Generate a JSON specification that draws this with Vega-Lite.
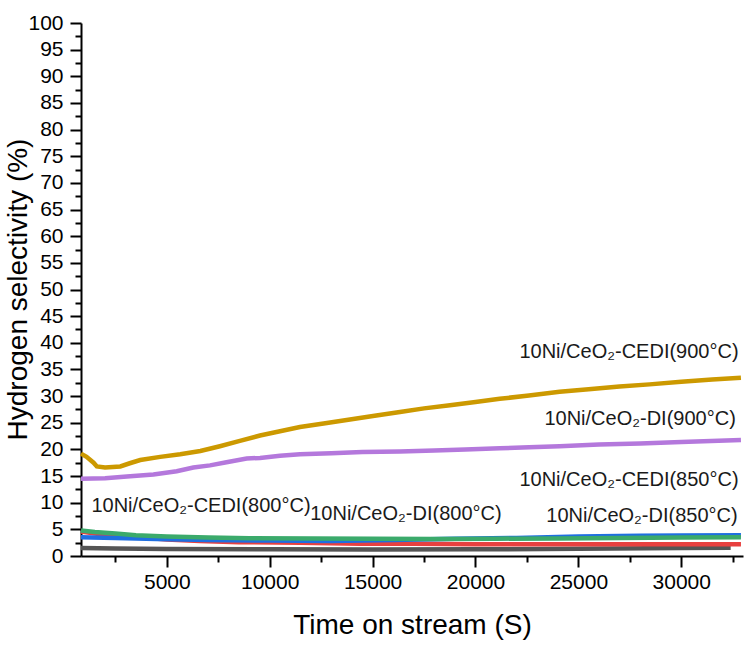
{
  "$schema": "https://vega.github.io/schema/vega-lite/v6.json",
  "width": 662,
  "height": 533,
  "autosize": {"type": "none"},
  "padding": {"left": 81, "top": 23, "right": 11, "bottom": 91},
  "background": "white",
  "config": {"view": {"stroke": null}, "font": "Liberation Sans"},
  "datasets": {
    "series": [
      {"series": "DI(800)", "time": 830, "value": 1.5},
      {"series": "DI(800)", "time": 2500, "value": 1.4},
      {"series": "DI(800)", "time": 5000, "value": 1.3},
      {"series": "DI(800)", "time": 10000, "value": 1.25},
      {"series": "DI(800)", "time": 15000, "value": 1.2},
      {"series": "DI(800)", "time": 20000, "value": 1.25},
      {"series": "DI(800)", "time": 25000, "value": 1.35},
      {"series": "DI(800)", "time": 30000, "value": 1.5},
      {"series": "DI(800)", "time": 32400, "value": 1.55},

      {"series": "CEDI(800)", "time": 830, "value": 4.6},
      {"series": "CEDI(800)", "time": 1500, "value": 4.2},
      {"series": "CEDI(800)", "time": 2500, "value": 3.8},
      {"series": "CEDI(800)", "time": 4000, "value": 3.4},
      {"series": "CEDI(800)", "time": 5000, "value": 3.1},
      {"series": "CEDI(800)", "time": 6600, "value": 2.8},
      {"series": "CEDI(800)", "time": 8500, "value": 2.6},
      {"series": "CEDI(800)", "time": 11500, "value": 2.5},
      {"series": "CEDI(800)", "time": 14400, "value": 2.3},
      {"series": "CEDI(800)", "time": 17000, "value": 2.3},
      {"series": "CEDI(800)", "time": 20000, "value": 2.2},
      {"series": "CEDI(800)", "time": 24000, "value": 2.2},
      {"series": "CEDI(800)", "time": 28000, "value": 2.2},
      {"series": "CEDI(800)", "time": 32900, "value": 2.2},

      {"series": "DI(850)", "time": 830, "value": 3.5},
      {"series": "DI(850)", "time": 2500, "value": 3.4},
      {"series": "DI(850)", "time": 4500, "value": 3.2},
      {"series": "DI(850)", "time": 7000, "value": 3.0},
      {"series": "DI(850)", "time": 10000, "value": 2.9},
      {"series": "DI(850)", "time": 13000, "value": 2.8},
      {"series": "DI(850)", "time": 16000, "value": 3.0},
      {"series": "DI(850)", "time": 19000, "value": 3.25},
      {"series": "DI(850)", "time": 22000, "value": 3.4},
      {"series": "DI(850)", "time": 25000, "value": 3.65},
      {"series": "DI(850)", "time": 28000, "value": 3.8},
      {"series": "DI(850)", "time": 30000, "value": 3.85},
      {"series": "DI(850)", "time": 32900, "value": 3.9},

      {"series": "CEDI(850)", "time": 830, "value": 4.8},
      {"series": "CEDI(850)", "time": 1500, "value": 4.5},
      {"series": "CEDI(850)", "time": 2500, "value": 4.2},
      {"series": "CEDI(850)", "time": 3500, "value": 3.9},
      {"series": "CEDI(850)", "time": 5000, "value": 3.65},
      {"series": "CEDI(850)", "time": 7000, "value": 3.45},
      {"series": "CEDI(850)", "time": 9000, "value": 3.35},
      {"series": "CEDI(850)", "time": 12000, "value": 3.3},
      {"series": "CEDI(850)", "time": 15000, "value": 3.25},
      {"series": "CEDI(850)", "time": 18000, "value": 3.2},
      {"series": "CEDI(850)", "time": 21000, "value": 3.25},
      {"series": "CEDI(850)", "time": 24000, "value": 3.3},
      {"series": "CEDI(850)", "time": 27000, "value": 3.4},
      {"series": "CEDI(850)", "time": 30000, "value": 3.45},
      {"series": "CEDI(850)", "time": 32900, "value": 3.5},

      {"series": "DI(900)", "time": 830, "value": 14.5},
      {"series": "DI(900)", "time": 2000, "value": 14.6},
      {"series": "DI(900)", "time": 3060, "value": 14.9},
      {"series": "DI(900)", "time": 4350, "value": 15.3},
      {"series": "DI(900)", "time": 5480, "value": 15.9},
      {"series": "DI(900)", "time": 6290, "value": 16.6},
      {"series": "DI(900)", "time": 7100, "value": 17.0},
      {"series": "DI(900)", "time": 7900, "value": 17.6},
      {"series": "DI(900)", "time": 8880, "value": 18.3},
      {"series": "DI(900)", "time": 9530, "value": 18.4},
      {"series": "DI(900)", "time": 10500, "value": 18.8},
      {"series": "DI(900)", "time": 11470, "value": 19.1},
      {"series": "DI(900)", "time": 13000, "value": 19.3},
      {"series": "DI(900)", "time": 14500, "value": 19.5},
      {"series": "DI(900)", "time": 16330, "value": 19.6},
      {"series": "DI(900)", "time": 18000, "value": 19.8},
      {"series": "DI(900)", "time": 19500, "value": 20.0},
      {"series": "DI(900)", "time": 21180, "value": 20.2},
      {"series": "DI(900)", "time": 22600, "value": 20.4},
      {"series": "DI(900)", "time": 24090, "value": 20.6},
      {"series": "DI(900)", "time": 26000, "value": 20.9},
      {"series": "DI(900)", "time": 28000, "value": 21.1},
      {"series": "DI(900)", "time": 30000, "value": 21.4},
      {"series": "DI(900)", "time": 32900, "value": 21.75},

      {"series": "CEDI(900)", "time": 830, "value": 19.2},
      {"series": "CEDI(900)", "time": 1100, "value": 18.6},
      {"series": "CEDI(900)", "time": 1440, "value": 17.5},
      {"series": "CEDI(900)", "time": 1600, "value": 16.8},
      {"series": "CEDI(900)", "time": 2000, "value": 16.6},
      {"series": "CEDI(900)", "time": 2740, "value": 16.8},
      {"series": "CEDI(900)", "time": 3200, "value": 17.4},
      {"series": "CEDI(900)", "time": 3710, "value": 18.0},
      {"series": "CEDI(900)", "time": 4680, "value": 18.6},
      {"series": "CEDI(900)", "time": 5650, "value": 19.1},
      {"series": "CEDI(900)", "time": 6630, "value": 19.7},
      {"series": "CEDI(900)", "time": 7580, "value": 20.6},
      {"series": "CEDI(900)", "time": 8550, "value": 21.6},
      {"series": "CEDI(900)", "time": 9530, "value": 22.6},
      {"series": "CEDI(900)", "time": 10500, "value": 23.4},
      {"series": "CEDI(900)", "time": 11470, "value": 24.2},
      {"series": "CEDI(900)", "time": 12700, "value": 24.9},
      {"series": "CEDI(900)", "time": 13900, "value": 25.6},
      {"series": "CEDI(900)", "time": 15100, "value": 26.3},
      {"series": "CEDI(900)", "time": 16330, "value": 27.0},
      {"series": "CEDI(900)", "time": 17500, "value": 27.7},
      {"series": "CEDI(900)", "time": 18760, "value": 28.3},
      {"series": "CEDI(900)", "time": 20000, "value": 28.9},
      {"series": "CEDI(900)", "time": 21180, "value": 29.5},
      {"series": "CEDI(900)", "time": 22600, "value": 30.1},
      {"series": "CEDI(900)", "time": 24090, "value": 30.8},
      {"series": "CEDI(900)", "time": 25500, "value": 31.3},
      {"series": "CEDI(900)", "time": 27000, "value": 31.8},
      {"series": "CEDI(900)", "time": 28460, "value": 32.2},
      {"series": "CEDI(900)", "time": 30000, "value": 32.7},
      {"series": "CEDI(900)", "time": 31500, "value": 33.1},
      {"series": "CEDI(900)", "time": 32900, "value": 33.45}
    ],
    "labels": [
      {"label": "10Ni/CeO₂-CEDI(900°C)", "time": 27460, "value": 38.3},
      {"label": "10Ni/CeO₂-DI(900°C)", "time": 28000, "value": 25.7},
      {"label": "10Ni/CeO₂-CEDI(850°C)", "time": 27460, "value": 14.3},
      {"label": "10Ni/CeO₂-DI(850°C)", "time": 28090, "value": 7.5},
      {"label": "10Ni/CeO₂-CEDI(800°C)", "time": 6660, "value": 9.4},
      {"label": "10Ni/CeO₂-DI(800°C)", "time": 16620, "value": 7.9}
    ]
  },
  "encoding": {
    "x": {
      "field": "time",
      "type": "quantitative",
      "scale": {"domain": [830, 33000], "nice": false, "zero": false},
      "axis": {
        "values": [2500, 5000, 7500, 10000, 12500, 15000, 17500, 20000, 22500, 25000, 27500, 30000, 32500],
        "labelExpr": "datum.value % 5000 === 0 ? format(datum.value, 'd') : ''",
        "tickSize": {"condition": {"test": "datum.value % 5000 === 0", "value": 11}, "value": 6},
        "grid": false,
        "domainColor": "black",
        "domainWidth": 2,
        "tickColor": "black",
        "tickWidth": 2,
        "labelFontSize": 21,
        "labelColor": "black",
        "labelPadding": 4,
        "labelFlush": false,
        "labelOverlap": false,
        "title": "Time on stream (S)",
        "titleFontSize": 28,
        "titleFontWeight": "normal",
        "titleColor": "black",
        "titleX": 331,
        "titleY": 69,
        "titleAlign": "center",
        "titleBaseline": "middle"
      }
    },
    "y": {
      "field": "value",
      "type": "quantitative",
      "scale": {"domain": [0, 100], "nice": false},
      "axis": {
        "values": [0, 2.5, 5, 7.5, 10, 12.5, 15, 17.5, 20, 22.5, 25, 27.5, 30, 32.5, 35, 37.5, 40, 42.5, 45, 47.5, 50, 52.5, 55, 57.5, 60, 62.5, 65, 67.5, 70, 72.5, 75, 77.5, 80, 82.5, 85, 87.5, 90, 92.5, 95, 97.5, 100],
        "labelExpr": "datum.value % 5 === 0 ? format(datum.value, 'd') : ''",
        "tickSize": {"condition": {"test": "datum.value % 5 === 0", "value": 11}, "value": 6},
        "grid": false,
        "domainColor": "black",
        "domainWidth": 2,
        "tickColor": "black",
        "tickWidth": 2,
        "labelFontSize": 21,
        "labelColor": "black",
        "labelPadding": 7,
        "labelFlush": false,
        "labelOverlap": false,
        "title": "Hydrogen selectivity (%)",
        "titleFontSize": 28,
        "titleFontWeight": "normal",
        "titleColor": "black",
        "titleX": -63,
        "titleY": 266,
        "titleAngle": -90,
        "titleAlign": "center",
        "titleBaseline": "middle"
      }
    }
  },
  "layer": [
    {
      "data": {"name": "series"},
      "mark": {"type": "line", "strokeWidth": 4.5},
      "encoding": {
        "color": {
          "field": "series",
          "type": "nominal",
          "scale": {
            "domain": ["DI(800)", "CEDI(800)", "DI(850)", "CEDI(850)", "DI(900)", "CEDI(900)"],
            "range": ["#555555", "#E8403F", "#1F6FE0", "#3BAA6B", "#B478DC", "#CC9900"]
          },
          "legend": null
        }
      }
    },
    {
      "data": {"name": "labels"},
      "mark": {"type": "text", "fontSize": 20, "align": "center", "baseline": "middle", "color": "#1a1a1a"},
      "encoding": {
        "text": {"field": "label", "type": "nominal"}
      }
    }
  ]
}
